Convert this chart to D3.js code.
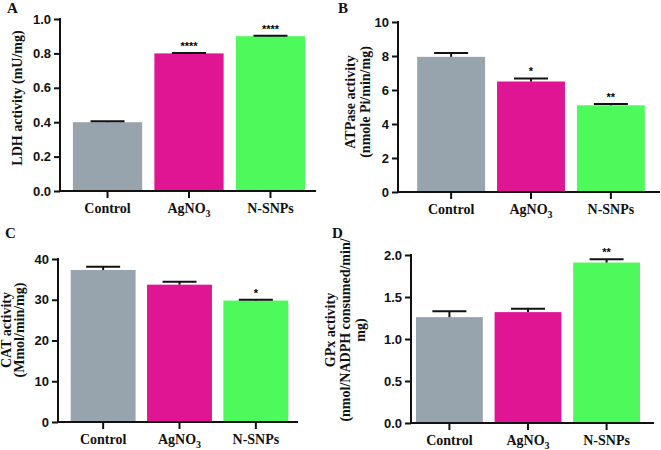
<!DOCTYPE html>
<html><head><meta charset="utf-8">
<script src="https://cdn.jsdelivr.net/npm/d3@7"></script>
<style>
body{margin:0;background:#fff;}
svg{display:block;}
</style></head>
<body>
<svg id="chart" width="661" height="450"></svg>
<script>
const categories = ["Control", "AgNO3", "N-SNPs"];
const colors = ["#97a3ad", "#df1594", "#4efa5b"];

const ldhValues = [0.40, 0.80, 0.90];
const ldhErrors = [0.005, 0.003, 0.003];
const ldhStars = ["", "****", "****"];
const ldhTicks = [0, 0.2, 0.4, 0.6, 0.8, 1.0];

const atpValues = [7.95, 6.50, 5.10];
const atpErrors = [0.22, 0.18, 0.08];
const atpStars = ["", "*", "**"];
const atpTicks = [0, 2, 4, 6, 8, 10];

const catValues = [37.3, 33.7, 29.8];
const catErrors = [0.8, 0.7, 0.2];
const catStars = ["", "", "*"];
const catTicks = [0, 10, 20, 30, 40];

const gpxValues = [1.26, 1.32, 1.91];
const gpxErrors = [0.07, 0.04, 0.04];
const gpxStars = ["", "", "**"];
const gpxTicks = [0, 0.5, 1.0, 1.5, 2.0];

const svg = d3.select("#chart");
const serif = "'Liberation Serif','Times New Roman',serif";
const sans = "'Liberation Sans',Arial,sans-serif";

function panel(cfg){
  const g = svg.append("g");
  const y = d3.scaleLinear().domain([0, cfg.max]).range([cfg.y0, cfg.yTop]);
  const x = d3.scaleBand().domain(categories).range(cfg.band).paddingInner(0.15).paddingOuter(0.14);

  // bars
  g.selectAll("rect.bar").data(cfg.values).enter().append("rect")
    .attr("x", (d,i)=>x(categories[i]))
    .attr("width", x.bandwidth())
    .attr("y", d=>y(d))
    .attr("height", d=>cfg.y0 - y(d))
    .attr("fill", (d,i)=>colors[i]);

  // error bars
  cfg.values.forEach((v,i)=>{
    const cx = x(categories[i]) + x.bandwidth()/2;
    const top = y(v + cfg.errors[i]);
    g.append("line").attr("x1",cx).attr("x2",cx).attr("y1",y(v)).attr("y2",top)
      .attr("stroke","#111").attr("stroke-width",2);
    g.append("line").attr("x1",cx-17).attr("x2",cx+17).attr("y1",top).attr("y2",top)
      .attr("stroke","#111").attr("stroke-width",2);
    if (cfg.stars[i]) {
      g.append("text").attr("x",cx).attr("y",top-3)
        .attr("text-anchor","middle")
        .style("font-family",sans).style("font-weight","bold").style("font-size","11px")
        .text(cfg.stars[i]);
    }
  });

  // y axis
  const yAxis = d3.axisLeft(y).tickValues(cfg.ticks).tickSize(6).tickPadding(3)
    .tickFormat(cfg.fmt);
  const ya = g.append("g").attr("transform",`translate(${cfg.axisX},0)`).call(yAxis);
  ya.select(".domain").remove();
  ya.append("line").attr("x1",0).attr("x2",0).attr("y1",cfg.yTop-1).attr("y2",cfg.y0+1)
    .attr("stroke","#111").attr("stroke-width",2);
  ya.selectAll(".tick line").attr("stroke","#111").attr("stroke-width",2);
  ya.selectAll(".tick text").style("font-family",sans).style("font-weight","bold")
    .style("font-size","13px").attr("fill","#111");

  // x axis
  const xAxis = d3.axisBottom(x).tickSize(7).tickFormat("");
  const xa = g.append("g").attr("transform",`translate(0,${cfg.y0})`).call(xAxis);
  xa.select(".domain").remove();
  xa.append("line").attr("x1",cfg.axisX-1).attr("x2",cfg.axisEnd).attr("y1",0).attr("y2",0)
    .attr("stroke","#111").attr("stroke-width",2);
  xa.selectAll(".tick line").attr("stroke","#111").attr("stroke-width",2);

  categories.forEach((c,i)=>{
    const t = g.append("text").attr("x", x(c)+x.bandwidth()/2).attr("y", cfg.y0+22)
      .attr("text-anchor","middle")
      .style("font-family",serif).style("font-weight","bold").style("font-size","14px").attr("fill","#111");
    const m = c.match(/^(.*?)(\d+)$/);
    if (m) {
      t.append("tspan").text(m[1]);
      t.append("tspan").attr("dy",4).style("font-size","10px").text(m[2]);
    } else t.text(c);
  });

  // y title
  cfg.title.forEach((line,k)=>{
    g.append("text")
      .attr("transform",`translate(${cfg.titleX[k]},${cfg.titleY}) rotate(-90)`)
      .attr("text-anchor","middle").attr("dominant-baseline","middle")
      .style("font-family",serif).style("font-weight","bold").style("font-size","14px").attr("fill","#111")
      .text(line);
  });

  // panel letter
  svg.append("text").attr("x",cfg.letterX).attr("y",cfg.letterY)
    .style("font-family",serif).style("font-weight","bold").style("font-size","15px").attr("fill","#111")
    .text(cfg.letter);
}

panel({letter:"A", letterX:7, letterY:13, values:ldhValues, errors:ldhErrors, stars:ldhStars,
  ticks:ldhTicks, max:1, fmt:d3.format(".1f"), y0:191, yTop:19, axisX:60, axisEnd:316, band:[61.5,316.5],
  title:["LDH activity (mU/mg)"], titleX:[19], titleY:98});

panel({letter:"B", letterX:338, letterY:13, values:atpValues, errors:atpErrors, stars:atpStars,
  ticks:atpTicks, max:10, fmt:d3.format("d"), y0:192, yTop:22, axisX:398, axisEnd:660, band:[406,656],
  title:["ATPase activity","(nmole Pi/min/mg)"], titleX:[352,367], titleY:102});

panel({letter:"C", letterX:5, letterY:238, values:catValues, errors:catErrors, stars:catStars,
  ticks:catTicks, max:40, fmt:d3.format("d"), y0:422, yTop:259, axisX:58, axisEnd:298, band:[60,299],
  title:["CAT activity","(Mmol/min/mg)"], titleX:[8,21], titleY:330});

panel({letter:"D", letterX:332, letterY:238, values:gpxValues, errors:gpxErrors, stars:gpxStars,
  ticks:gpxTicks, max:2, fmt:d3.format(".1f"), y0:423, yTop:255, axisX:411, axisEnd:654, band:[405,651],
  title:["GPx activity","(nmol/NADPH consumed/min/","mg)"], titleX:[332,347,362], titleY:330});
</script>
</body></html>
